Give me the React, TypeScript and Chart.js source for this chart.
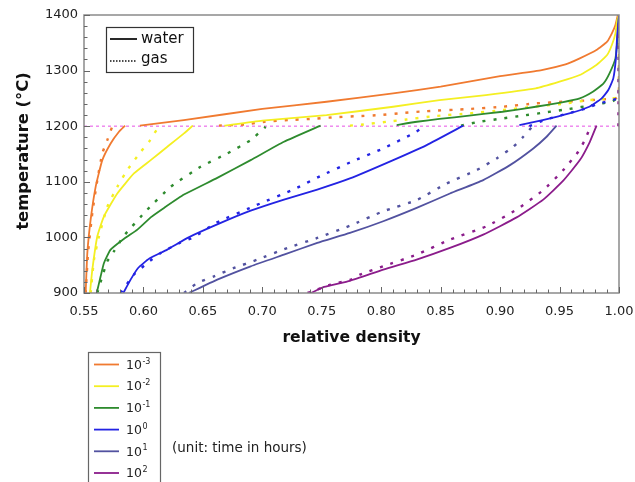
import React, { useEffect, useRef } from "react";
import { Chart, registerables } from "chart.js";

Chart.register(...registerables);

const FONT = "'DejaVu Sans', 'Liberation Sans', sans-serif";

// ---- axis ticks ----
const xTickValues = [0.55, 0.6, 0.65, 0.7, 0.75, 0.8, 0.85, 0.9, 0.95, 1.0];
const yTickValues = [900, 1000, 1100, 1200, 1300, 1400];
const holdTemperature = 1200;

// ---- time-scale series (unit: hours) ----
const timeExponents = ["-3", "-2", "-1", "0", "1", "2"];
const seriesColors = ["#f07a30", "#f4ef22", "#2e8b2e", "#2323e3", "#5252a0", "#8b1c8b"];

// [relative density, temperature °C]
// 10^-3 h
const water3Heat = [[0.5514, 900], [0.5528, 972], [0.5556, 1032], [0.5598, 1091], [0.5654, 1139], [0.5724, 1169], [0.5794, 1190], [0.5845, 1201]];
const gas3Heat = [[0.5514, 900], [0.5534, 972], [0.557, 1044], [0.5612, 1103], [0.5654, 1151], [0.5696, 1175], [0.5735, 1198]];
const water3Hold = [[0.597, 1201], [0.634, 1211], [0.70, 1231], [0.754, 1244], [0.81, 1259], [0.85, 1271], [0.90, 1290], [0.935, 1301], [0.955, 1311], [0.967, 1322], [0.981, 1337], [0.99, 1352], [0.994, 1367], [0.997, 1382], [0.999, 1400]];
const gas3Hold = [[0.6635, 1201], [0.685, 1203], [0.702, 1208], [0.722, 1211], [0.74, 1213], [0.76, 1216], [0.779, 1218], [0.799, 1220], [0.819, 1224], [0.838, 1227], [0.874, 1231], [0.902, 1235], [0.93, 1241], [0.953, 1244], [0.978, 1247], [0.998, 1251], [1.0, 1260], [1.0, 1400]];
// 10^-2 h
const water2Heat = [[0.555, 900], [0.557, 942], [0.5612, 1002], [0.5668, 1038], [0.578, 1079], [0.592, 1115], [0.6061, 1139], [0.6201, 1163], [0.6341, 1187], [0.6415, 1201]];
const gas2Heat = [[0.5556, 900], [0.5584, 960], [0.5626, 1002], [0.5696, 1055], [0.578, 1091], [0.5864, 1121], [0.5977, 1154], [0.6047, 1172], [0.611, 1193], [0.614, 1200]];
const water2Hold = [[0.668, 1201], [0.70, 1210], [0.754, 1220], [0.81, 1235], [0.849, 1247], [0.888, 1256], [0.93, 1268], [0.95, 1280], [0.967, 1292], [0.981, 1310], [0.99, 1328], [0.994, 1346], [0.997, 1367], [0.9985, 1391], [1.0, 1400]];
const gas2Hold = [[0.7737, 1201], [0.785, 1203], [0.8045, 1208], [0.8213, 1212], [0.8438, 1218], [0.8741, 1223], [0.9022, 1229], [0.9274, 1235], [0.9554, 1241], [0.975, 1247], [0.9975, 1251], [1.0, 1260], [1.0, 1400]];
// 10^-1 h
const water1Heat = [[0.5607, 900], [0.564, 930], [0.5668, 954], [0.5724, 978], [0.584, 998], [0.5949, 1014], [0.6061, 1036], [0.6173, 1053], [0.6341, 1077], [0.6621, 1107], [0.6902, 1139], [0.7182, 1172], [0.749, 1201]];
const gas1Heat = [[0.5612, 900], [0.5654, 930], [0.5696, 957], [0.5752, 975], [0.5836, 1003], [0.6033, 1050], [0.6229, 1091], [0.6481, 1127], [0.6706, 1151], [0.6902, 1175], [0.7028, 1199]];
const water1Hold = [[0.813, 1202], [0.83, 1208], [0.849, 1213], [0.874, 1219], [0.902, 1226], [0.93, 1235], [0.952, 1243], [0.967, 1250], [0.978, 1262], [0.987, 1277], [0.992, 1295], [0.997, 1322], [0.9985, 1352], [1.0, 1400]];
const gas1Hold = [[0.8671, 1201], [0.8825, 1208], [0.9022, 1214], [0.919, 1219], [0.9386, 1225], [0.9582, 1231], [0.9779, 1238], [0.9947, 1245], [1.0, 1255], [1.0, 1400]];
// 10^0 h
const water0Heat = [[0.5831, 900], [0.5892, 924], [0.5955, 945], [0.605, 962], [0.62, 978], [0.638, 1000], [0.665, 1026], [0.6902, 1048], [0.7182, 1068], [0.7462, 1086], [0.7737, 1106], [0.8101, 1139], [0.8382, 1166], [0.869, 1201]];
const gas0Heat = [[0.5808, 900], [0.592, 933], [0.6033, 954], [0.6145, 972], [0.6313, 991], [0.642, 1000], [0.661, 1026], [0.695, 1058], [0.728, 1088], [0.7485, 1110], [0.775, 1136], [0.8017, 1160], [0.827, 1187], [0.8368, 1200]];
const water0Hold = [[0.9162, 1202], [0.9358, 1211], [0.9582, 1223], [0.975, 1235], [0.9854, 1250], [0.991, 1265], [0.9952, 1286], [0.9974, 1322], [0.9985, 1364], [1.0, 1400]];
const gas0Hold = [[0.9246, 1200], [0.9386, 1212], [0.9554, 1222], [0.9722, 1232], [0.9835, 1241], [0.9947, 1247], [1.0, 1252], [1.0, 1400]];
// 10^1 h
const waterP1Heat = [[0.6383, 900], [0.6621, 924], [0.6902, 948], [0.7182, 969], [0.7462, 990], [0.7737, 1008], [0.8017, 1029], [0.8298, 1053], [0.8578, 1079], [0.8858, 1103], [0.9083, 1130], [0.9279, 1160], [0.9391, 1181], [0.9475, 1201]];
const gasP1Heat = [[0.6341, 900], [0.6453, 918], [0.6593, 930], [0.6762, 945], [0.6958, 960], [0.721, 981], [0.7462, 999], [0.7737, 1021], [0.8017, 1047], [0.8298, 1067], [0.855, 1097], [0.8802, 1121], [0.8971, 1142], [0.9111, 1163], [0.9195, 1181], [0.9273, 1200]];
// 10^2 h
const waterP2Heat = [[0.741, 900], [0.7519, 911], [0.7737, 922], [0.8017, 942], [0.8298, 960], [0.8578, 981], [0.8858, 1005], [0.9139, 1036], [0.9363, 1068], [0.9531, 1102], [0.9671, 1139], [0.9755, 1172], [0.9811, 1201]];
const gasP2Heat = [[0.738, 900], [0.7575, 915], [0.7743, 924], [0.7821, 933], [0.8017, 948], [0.8298, 969], [0.8578, 996], [0.8886, 1020], [0.9139, 1050], [0.9363, 1085], [0.9531, 1121], [0.9657, 1154], [0.9713, 1175], [0.975, 1194]];
const gasP2Hold = [[0.9995, 1200], [1.0, 1400]];

const waterCurves = [[water3Heat, water3Hold], [water2Heat, water2Hold], [water1Heat, water1Hold], [water0Heat, water0Hold], [waterP1Heat], [waterP2Heat]];
const gasCurves = [[gas3Heat, gas3Hold], [gas2Heat, gas2Hold], [gas1Heat, gas1Hold], [gas0Heat, gas0Hold], [gasP1Heat], [gasP2Heat, gasP2Hold]];

const toPoints = (arr: number[][]) => arr.map(([x, y]) => ({ x, y }));

function buildDatasets() {
  const ds: any[] = [];
  // purple first so it is drawn on top
  for (let i = seriesColors.length - 1; i >= 0; i--) {
    gasCurves[i].forEach((c) =>
      ds.push({
        data: toPoints(c),
        showLine: true,
        borderColor: seriesColors[i],
        borderWidth: 2.4,
        borderDash: [3, 8],
        pointRadius: 0,
        tension: 0.15,
        fill: false,
      })
    );
    waterCurves[i].forEach((c) =>
      ds.push({
        data: toPoints(c),
        showLine: true,
        borderColor: seriesColors[i],
        borderWidth: 1.8,
        pointRadius: 0,
        tension: 0.15,
        fill: false,
      })
    );
  }
  ds.push({
    data: toPoints([[xTickValues[0], holdTemperature], [xTickValues[xTickValues.length - 1], holdTemperature]]),
    showLine: true,
    borderColor: "#ee82ee",
    borderWidth: 1.4,
    borderDash: [3, 3],
    pointRadius: 0,
    fill: false,
  });
  return ds;
}

const decorPlugin = {
  id: "decor",
  afterDraw(chart: any) {
    const ctx = chart.ctx as CanvasRenderingContext2D;
    const { left, right, top, bottom } = chart.chartArea;
    const xs = chart.scales.x;
    const ys = chart.scales.y;
    ctx.save();
    // frame
    ctx.strokeStyle = "#8a8a8a";
    ctx.lineWidth = 1.5;
    ctx.strokeRect(left, top, right - left, bottom - top);
    // inward ticks
    ctx.strokeStyle = "#666";
    ctx.lineWidth = 1;
    ctx.beginPath();
    for (let k = 0; k <= 45; k++) {
      const v = 0.55 + k * 0.01;
      const px = Math.round(xs.getPixelForValue(v)) + 0.5;
      const len = k % 5 === 0 ? 6 : 3.5;
      ctx.moveTo(px, bottom);
      ctx.lineTo(px, bottom - len);
    }
    for (let k = 0; k <= 25; k++) {
      const v = 900 + k * 20;
      const py = Math.round(ys.getPixelForValue(v)) + 0.5;
      const len = k % 5 === 0 ? 6 : 3.5;
      ctx.moveTo(left, py);
      ctx.lineTo(left + len, py);
    }
    ctx.stroke();

    // axis titles
    ctx.fillStyle = "#111";
    ctx.font = `bold 15.6px ${FONT}`;
    ctx.textAlign = "center";
    ctx.textBaseline = "alphabetic";
    ctx.fillText("relative density", (left + right) / 2, 341.5);
    ctx.save();
    ctx.translate(28, (top + bottom) / 2 - 3);
    ctx.rotate(-Math.PI / 2);
    ctx.font = `bold 16.4px ${FONT}`;
    ctx.fillText("temperature (°C)", 0, 0);
    ctx.restore();

    // water / gas legend
    ctx.strokeStyle = "#333";
    ctx.lineWidth = 1.2;
    ctx.strokeRect(106.5, 27.5, 87, 45);
    ctx.strokeStyle = "#111";
    ctx.lineWidth = 1.8;
    ctx.beginPath();
    ctx.moveTo(110, 39);
    ctx.lineTo(137, 39);
    ctx.stroke();
    ctx.setLineDash([1.5, 1.5]);
    ctx.lineWidth = 1.6;
    ctx.beginPath();
    ctx.moveTo(110, 61);
    ctx.lineTo(137, 61);
    ctx.stroke();
    ctx.setLineDash([]);
    ctx.fillStyle = "#111";
    ctx.font = `15px ${FONT}`;
    ctx.textAlign = "left";
    ctx.textBaseline = "middle";
    ctx.fillText("water", 141, 39);
    ctx.fillText("gas", 141, 59);

    // time legend
    ctx.strokeStyle = "#666";
    ctx.lineWidth = 1.2;
    ctx.strokeRect(88.5, 352.5, 72, 140);
    timeExponents.forEach((e, i) => {
      const y = 364.5 + i * 21.7;
      ctx.strokeStyle = seriesColors[i];
      ctx.lineWidth = 1.8;
      ctx.beginPath();
      ctx.moveTo(94, y);
      ctx.lineTo(119, y);
      ctx.stroke();
      ctx.fillStyle = "#222";
      ctx.font = `12.5px ${FONT}`;
      ctx.textBaseline = "middle";
      ctx.fillText("10", 126, y + 1);
      const w = ctx.measureText("10").width;
      ctx.font = `8px ${FONT}`;
      ctx.fillText(e, 126 + w + 0.5, y - 3);
    });
    ctx.font = `13.5px ${FONT}`;
    ctx.fillStyle = "#222";
    ctx.textBaseline = "middle";
    ctx.fillText("(unit: time in hours)", 172, 448);
    ctx.restore();
  },
};

export default function App() {
  const ref = useRef<HTMLCanvasElement>(null);
  useEffect(() => {
    const canvas = ref.current;
    if (!canvas) return;
    const chart = new Chart(canvas, {
      type: "scatter",
      data: { datasets: buildDatasets() },
      plugins: [decorPlugin],
      options: {
        responsive: false,
        animation: false,
        devicePixelRatio: 1,
        layout: { padding: { left: 0, right: 16, top: 15, bottom: 159 } },
        plugins: { legend: { display: false }, tooltip: { enabled: false } },
        scales: {
          x: {
            type: "linear",
            min: xTickValues[0],
            max: xTickValues[xTickValues.length - 1],
            afterFit: (s: any) => {
              s.height = 30;
              s.paddingLeft = 0;
              s.paddingRight = 0;
            },
            afterBuildTicks: (s: any) => {
              s.ticks = xTickValues.map((value) => ({ value }));
            },
            grid: { display: false, drawTicks: false },
            border: { display: false },
            ticks: {
              padding: 11,
              maxRotation: 0,
              autoSkip: false,
              color: "#222",
              font: { family: FONT, size: 13 },
              callback: (v: any) => Number(v).toFixed(2),
            },
          },
          y: {
            type: "linear",
            min: yTickValues[0],
            max: yTickValues[yTickValues.length - 1],
            afterFit: (s: any) => {
              s.width = 84;
              s.paddingTop = 0;
              s.paddingBottom = 0;
            },
            afterBuildTicks: (s: any) => {
              s.ticks = yTickValues.map((value) => ({ value }));
            },
            grid: { display: false, drawTicks: false },
            border: { display: false },
            ticks: {
              padding: 6,
              color: "#222",
              font: { family: FONT, size: 13 },
              callback: (v: any) => String(v),
            },
          },
        },
      } as any,
    });
    return () => chart.destroy();
  }, []);
  return (
    <div style={{ position: "fixed", left: 0, top: 0, width: 635, height: 482, background: "#fff" }}>
      <canvas ref={ref} width={635} height={482} style={{ display: "block" }} />
    </div>
  );
}
